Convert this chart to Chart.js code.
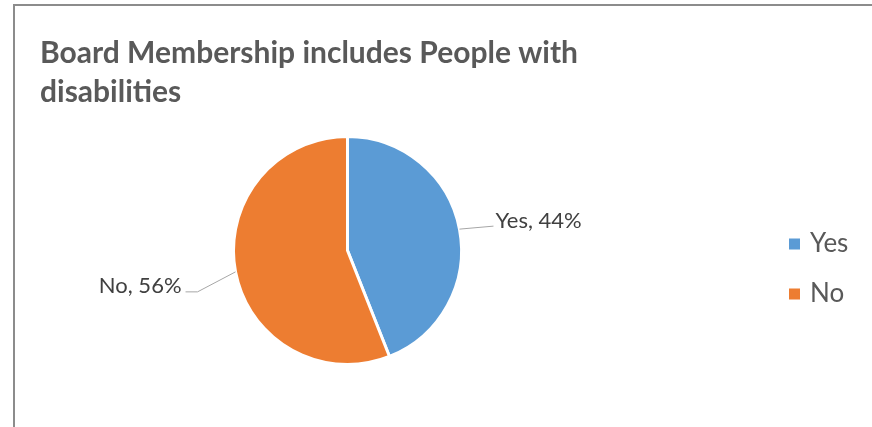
<!DOCTYPE html>
<html>
<head>
<meta charset="utf-8">
<script src="https://cdn.jsdelivr.net/npm/chart.js@4/dist/chart.umd.min.js"></script>
<style>
  html, body { margin: 0; padding: 0; background: #fff; overflow: hidden; }
  #frame { position: absolute; left: 13px; top: 4px; width: 900px; height: 500px; border: 2px solid #8c8c8c; }
  #wrap { position: absolute; left: 0; top: 0; width: 872px; height: 427px; }
</style>
</head>
<body>
<div id="frame"></div>
<div id="wrap"><canvas id="c" width="872" height="427"></canvas></div>
<script>
// chart data
var labels = ['Yes', 'No'];
var values = [44, 56];
var colors = ['#5B9BD5', '#ED7D31'];
var titleLines = ['Board Membership includes People with', 'disabilities'];

var FONT = 'Lato, "Open Sans", sans-serif';

// leader line offsets from the slice edge (style only)
var leaderStyle = [
  { pts: [[34, -3]], text: [36, -8], align: 'left' },
  { pts: [[-38, 20], [-50, 20]], text: [-54, 14], align: 'right' }
];

var pieExtras = {
  id: 'pieExtras',
  afterDraw: function(chart) {
    var ctx = chart.ctx;
    var meta = chart.getDatasetMeta(0);
    ctx.save();
    meta.data.forEach(function(arc, i) {
      var p = arc.getProps(['x', 'y', 'startAngle', 'endAngle', 'outerRadius'], true);
      var mid = (p.startAngle + p.endAngle) / 2;
      var ex = p.x + Math.cos(mid) * p.outerRadius;
      var ey = p.y + Math.sin(mid) * p.outerRadius;
      var st = leaderStyle[i];
      ctx.strokeStyle = '#a6a6a6';
      ctx.lineWidth = 1;
      ctx.beginPath();
      ctx.moveTo(ex, ey);
      st.pts.forEach(function(q) { ctx.lineTo(ex + q[0], ey + q[1]); });
      ctx.stroke();
      ctx.fillStyle = '#404040';
      ctx.font = '22px ' + FONT;
      ctx.textAlign = st.align;
      ctx.textBaseline = 'middle';
      var total = values.reduce(function(a, b) { return a + b; }, 0);
      var pct = Math.round(values[i] / total * 100);
      ctx.fillText(labels[i] + ', ' + pct + '%', ex + st.text[0], ey + st.text[1]);
    });
    // legend
    labels.forEach(function(l, i) {
      var ly = 244 + i * 50;
      ctx.fillStyle = colors[i];
      ctx.fillRect(789, ly - 5.5, 11, 11);
      ctx.fillStyle = '#595959';
      ctx.font = '26px ' + FONT;
      ctx.textAlign = 'left';
      ctx.textBaseline = 'middle';
      ctx.fillText(l, 810, ly);
    });
    ctx.restore();
  }
};

new Chart(document.getElementById('c'), {
  type: 'pie',
  data: {
    labels: labels,
    datasets: [{
      data: values,
      backgroundColor: colors,
      borderColor: '#ffffff',
      borderWidth: 3,
      hoverOffset: 0,
      offset: 0
    }]
  },
  options: {
    responsive: false,
    animation: false,
    events: [],
    layout: { padding: { left: 40, right: 217, top: 0, bottom: 61 } },
    plugins: {
      legend: { display: false },
      tooltip: { enabled: false },
      title: {
        display: true,
        text: titleLines,
        align: 'start',
        color: '#595959',
        font: { family: FONT, size: 30, weight: 'bold', lineHeight: 1.3 },
        padding: { top: 34, bottom: 23 }
      }
    }
  },
  plugins: [pieExtras]
});
</script>
</body>
</html>
